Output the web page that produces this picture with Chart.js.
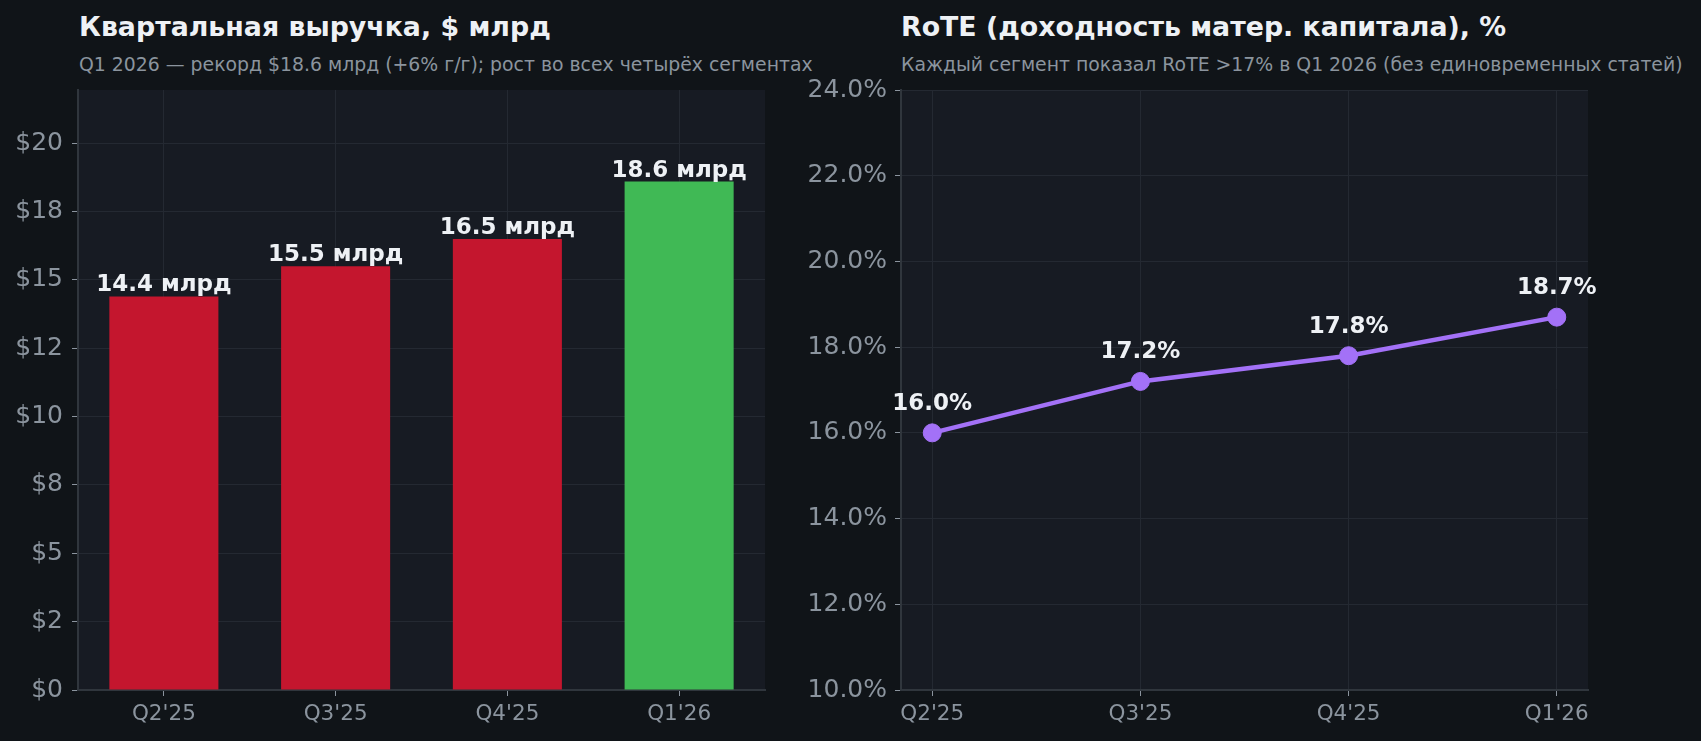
<!DOCTYPE html>
<html>
<head>
<meta charset="utf-8">
<script src="https://cdn.jsdelivr.net/npm/chart.js@4.4.1/dist/chart.umd.min.js"></script>
<style>
  html, body { margin: 0; padding: 0; background: #101418; }
  body { width: 1701px; height: 741px; position: relative; overflow: hidden; font-family: "DejaVu Sans", sans-serif; }
  canvas { position: absolute; top: 0; }
  .title { position: absolute; color: #eef1f5; font-weight: bold; font-size: 26.8px; line-height: 27px; white-space: nowrap; }
  .subtitle { position: absolute; color: #8b949e; font-size: 18.85px; line-height: 19px; white-space: nowrap; }
</style>
</head>
<body>
<div class="title" style="left:79px; top:13px;">Квартальная выручка, $ млрд</div>
<div class="subtitle" style="left:79px; top:55px;">Q1 2026 — рекорд $18.6 млрд (+6% г/г); рост во всех четырёх сегментах</div>
<div class="title" style="left:901px; top:13px;">RoTE (доходность матер. капитала), %</div>
<div class="subtitle" style="left:901px; top:55px;">Каждый сегмент показал RoTE &gt;17% в Q1 2026 (без единовременных статей)</div>

<canvas id="revenueCanvas" width="790" height="741" style="left:0px;"></canvas>
<canvas id="roteCanvas" width="911" height="741" style="left:790px;"></canvas>

<script>
// данные
var quarters = ["Q2'25", "Q3'25", "Q4'25", "Q1'26"];
var revenue = [14.4, 15.5, 16.5, 18.6];
var revenueLabels = ["14.4 млрд", "15.5 млрд", "16.5 млрд", "18.6 млрд"];
var revenueTicks = [0, 2.5, 5, 7.5, 10, 12.5, 15, 17.5, 20];
var revenueTickLabels = ["$0", "$2", "$5", "$8", "$10", "$12", "$15", "$18", "$20"];
var rote = [16.0, 17.2, 17.8, 18.7];
var roteLabels = ["16.0%", "17.2%", "17.8%", "18.7%"];
var roteTicks = [10, 12, 14, 16, 18, 20, 22, 24];
var roteTickLabels = ["10.0%", "12.0%", "14.0%", "16.0%", "18.0%", "20.0%", "22.0%", "24.0%"];

Chart.defaults.font.family = "'DejaVu Sans', sans-serif";
Chart.defaults.animation = false;

var gridColor = "#242932";
var spineColor = "#30363d";
var tickColor = "#8b949e";

// фон области графика
var plotBg = {
  id: "plotBg",
  beforeDraw: function (chart) {
    var a = chart.chartArea;
    var ctx = chart.ctx;
    ctx.save();
    ctx.fillStyle = "#171b23";
    ctx.fillRect(a.left, a.top, a.right - a.left, a.bottom - a.top);
    ctx.restore();
  },
};

// подписи над столбцами и точками
var valueLabels = {
  id: "valueLabels",
  afterDatasetsDraw: function (chart, args, opts) {
    var ctx = chart.ctx;
    var meta = chart.getDatasetMeta(0);
    ctx.save();
    ctx.font = "bold 23px 'DejaVu Sans'";
    ctx.fillStyle = "#eef1f5";
    ctx.textAlign = "center";
    ctx.textBaseline = "alphabetic";
    meta.data.forEach(function (el, i) {
      ctx.fillText(opts.texts[i], el.x, el.y - opts.offset);
    });
    ctx.restore();
  },
};

var revenueChart = new Chart(document.getElementById("revenueCanvas"), {
  type: "bar",
  data: {
    labels: quarters,
    datasets: [
      {
        data: revenue,
        backgroundColor: ["#c4162e", "#c4162e", "#c4162e", "#40b955"],
        barPercentage: 0.635,
        categoryPercentage: 1,
      },
    ],
  },
  options: {
    responsive: false,
    devicePixelRatio: 1,
    layout: { padding: { left: 0, top: 90, right: 25, bottom: 0 } },
    plugins: {
      legend: { display: false },
      tooltip: { enabled: false },
      valueLabels: { texts: revenueLabels, offset: 5 },
    },
    scales: {
      x: {
        offset: true,
        grid: { color: gridColor, offset: false, tickColor: tickColor, tickLength: 6, lineWidth: 1 },
        border: { color: spineColor, width: 2 },
        ticks: { color: tickColor, font: { size: 21.5 }, padding: 6 },
        afterFit: function (s) { s.height = 51; },
      },
      y: {
        min: 0,
        max: 21.95,
        grid: { color: gridColor, tickColor: tickColor, tickLength: 6, lineWidth: 1 },
        border: { color: spineColor, width: 2 },
        afterBuildTicks: function (s) {
          s.ticks = revenueTicks.map(function (v) { return { value: v }; });
        },
        ticks: {
          color: tickColor,
          font: { size: 25 },
          padding: 9,
          callback: function (v, i) { return revenueTickLabels[i]; },
        },
        afterFit: function (s) { s.width = 78; },
      },
    },
  },
  plugins: [plotBg, valueLabels],
});

var roteChart = new Chart(document.getElementById("roteCanvas"), {
  type: "line",
  data: {
    datasets: [
      {
        data: rote.map(function (v, i) { return { x: i, y: v }; }),
        borderColor: "#a371f7",
        borderWidth: 4.5,
        pointRadius: 9,
        pointBackgroundColor: "#a371f7",
        pointBorderColor: "#a371f7",
        pointBorderWidth: 1,
        tension: 0,
      },
    ],
  },
  options: {
    responsive: false,
    devicePixelRatio: 1,
    layout: { padding: { left: 0, top: 90, right: 113, bottom: 0 } },
    plugins: {
      legend: { display: false },
      tooltip: { enabled: false },
      valueLabels: { texts: roteLabels, offset: 23 },
    },
    scales: {
      x: {
        type: "linear",
        min: -0.15,
        max: 3.15,
        grid: { color: gridColor, tickColor: tickColor, tickLength: 6, lineWidth: 1 },
        border: { color: spineColor, width: 2 },
        afterBuildTicks: function (s) {
          s.ticks = quarters.map(function (q, i) { return { value: i }; });
        },
        ticks: {
          color: tickColor,
          font: { size: 21.5 },
          padding: 6,
          callback: function (v, i) { return quarters[i]; },
        },
        afterFit: function (s) { s.height = 51; },
      },
      y: {
        min: 10,
        max: 24,
        grid: { color: gridColor, tickColor: tickColor, tickLength: 6, lineWidth: 1 },
        border: { color: spineColor, width: 2 },
        afterBuildTicks: function (s) {
          s.ticks = roteTicks.map(function (v) { return { value: v }; });
        },
        ticks: {
          color: tickColor,
          font: { size: 25 },
          padding: 8,
          callback: function (v, i) { return roteTickLabels[i]; },
        },
        afterFit: function (s) { s.width = 111; },
      },
    },
  },
  plugins: [plotBg, valueLabels],
});
</script>
</body>
</html>
